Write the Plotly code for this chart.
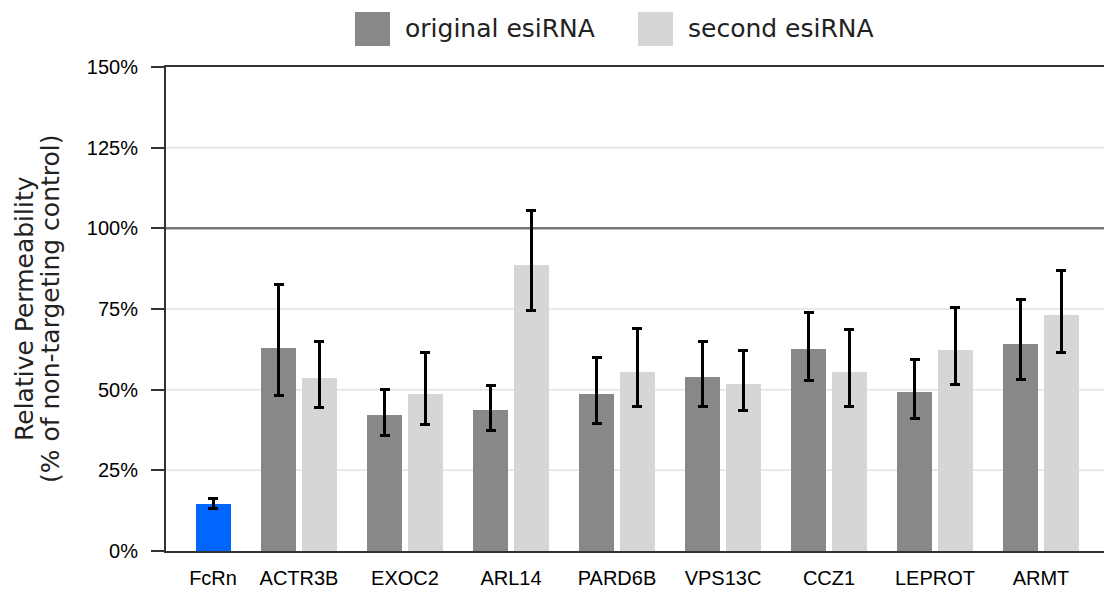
import plotly.graph_objects as go

# ---- data ----
genes = ["ACTR3B", "EXOC2", "ARL14", "PARD6B", "VPS13C", "CCZ1", "LEPROT", "ARMT"]
original = [63.0, 42.3, 43.7, 48.6, 53.8, 62.5, 49.2, 64.3]
original_err_plus = [19.5, 7.9, 7.6, 11.3, 11.0, 11.4, 10.0, 13.6]
original_err_minus = [14.8, 6.6, 6.4, 9.0, 9.1, 9.8, 8.2, 11.1]
second = [53.6, 48.7, 88.7, 55.6, 51.9, 55.4, 62.3, 73.0]
second_err_plus = [11.2, 12.8, 16.8, 13.5, 10.3, 13.4, 13.2, 13.8]
second_err_minus = [9.2, 9.6, 14.1, 10.7, 8.4, 10.6, 10.6, 11.5]
control_label = "FcRn"
control_value = [14.6]
control_err_plus = [1.7]
control_err_minus = [1.5]
series_names = ["original esiRNA", "second esiRNA"]
y_ticks = [0, 25, 50, 75, 100, 125, 150]
y_tick_labels = [f"{v}%" for v in y_ticks]
y_grid = [25, 50, 75, 125]
reference_level = 100
y_title_lines = ["Relative Permeability", "(% of non-targeting control)"]

# ---- layout constants ----
W, H = 1104, 593
L, R, T, B = 166, 0, 67, 42
PW, PH = W - L - R, H - T - B
CONTROL_POS = -0.811
BAR_W = 0.33
C_ORIG, C_SEC, C_CTRL = "#888888", "#d6d6d6", "#0066ff"

def px_x(p):
    return (p - L) / PW

def px_y(p):
    return (H - B - p) / PH

gene_pos = list(range(len(genes)))
err_style = dict(type="data", symmetric=False, color="black", thickness=3, width=5)

fig = go.Figure()

# light grid lines and the darker 100% reference line (below the bars)
for g in y_grid:
    fig.add_shape(type="line", xref="paper", x0=0, x1=1, yref="y", y0=g, y1=g,
                  line=dict(color="#e2e2e2", width=1.5), layer="below")
fig.add_shape(type="line", xref="paper", x0=0, x1=1, yref="y",
              y0=reference_level, y1=reference_level,
              line=dict(color="#777777", width=2.5), layer="below")

fig.add_trace(go.Bar(
    x=[CONTROL_POS], y=control_value, width=BAR_W, marker=dict(color=C_CTRL, line_width=0),
    error_y=dict(array=control_err_plus, arrayminus=control_err_minus, **err_style),
    name=control_label, showlegend=False))
fig.add_trace(go.Bar(
    x=gene_pos, y=original, width=BAR_W, offset=-0.358, marker=dict(color=C_ORIG, line_width=0),
    error_y=dict(array=original_err_plus, arrayminus=original_err_minus, **err_style),
    name=series_names[0], showlegend=False))
fig.add_trace(go.Bar(
    x=gene_pos, y=second, width=BAR_W, offset=0.025, marker=dict(color=C_SEC, line_width=0),
    error_y=dict(array=second_err_plus, arrayminus=second_err_minus, **err_style),
    name=series_names[1], showlegend=False))

# manual legend
legend_items = [(series_names[0], C_ORIG, 355), (series_names[1], C_SEC, 638)]
for name, col, x0 in legend_items:
    fig.add_shape(type="rect", xref="paper", yref="paper",
                  x0=px_x(x0), x1=px_x(x0 + 35), y0=px_y(46), y1=px_y(12),
                  fillcolor=col, line_width=0)
    fig.add_annotation(xref="paper", yref="paper", x=px_x(x0 + 48), y=px_y(29),
                       text=name, showarrow=False, xanchor="left", yanchor="middle",
                       font=dict(family="DejaVu Sans", size=25, color="#222222"))

# y-axis title (two rotated lines)
for line, cx in zip(y_title_lines, [24, 50]):
    fig.add_annotation(xref="paper", yref="paper", x=px_x(cx), y=0.5,
                       text=line, textangle=-90, showarrow=False,
                       xanchor="center", yanchor="middle",
                       font=dict(family="DejaVu Sans", size=25, color="#222222"))

fig.update_layout(
    width=W, height=H, margin=dict(l=L, r=R, t=T, b=B, pad=0),
    paper_bgcolor="white", plot_bgcolor="white",
    barmode="overlay", bargap=0, showlegend=False,
    xaxis=dict(range=[(L - 299) / 106, (W - R - 299) / 106],
               tickvals=[CONTROL_POS] + gene_pos, ticktext=[control_label] + genes,
               showgrid=False, zeroline=False, showline=True, mirror=True,
               linecolor="#333333", linewidth=2, ticks="",
               ticklabelstandoff=8,
               tickfont=dict(family="Liberation Sans", size=20, color="black")),
    yaxis=dict(range=[0, 150], tickvals=y_ticks, ticktext=y_tick_labels,
               showgrid=False, zeroline=False,
               showline=True, linecolor="#333333", linewidth=2,
               ticks="outside", ticklen=13, tickwidth=1.5, tickcolor="#333333",
               ticklabelstandoff=9,
               tickfont=dict(family="Liberation Sans", size=20, color="black")),
)

fig.write_html("out.html")
